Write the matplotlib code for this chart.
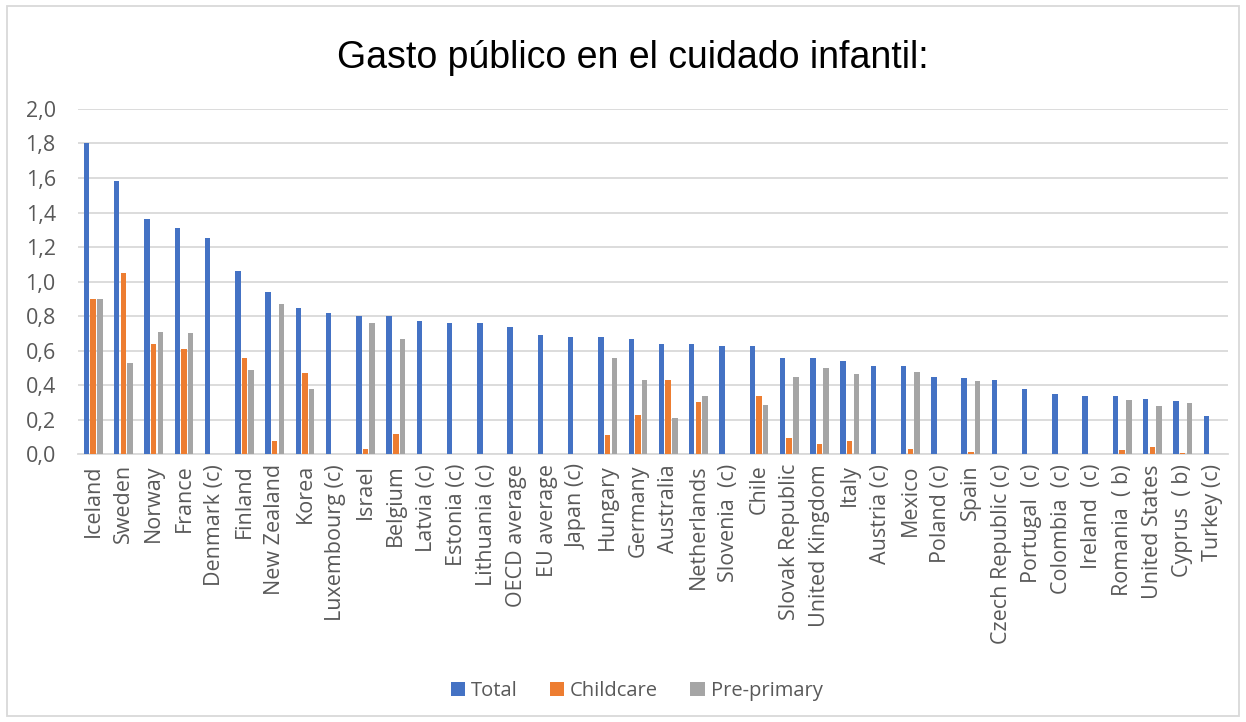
import matplotlib.pyplot as plt
import numpy as np
from matplotlib.patches import Rectangle

countries = ['Iceland', 'Sweden', 'Norway', 'France', 'Denmark (c)', 'Finland',
             'New Zealand', 'Korea', 'Luxembourg (c)', 'Israel', 'Belgium',
             'Latvia (c)', 'Estonia (c)', 'Lithuania (c)', 'OECD average',
             'EU average', 'Japan (c)', 'Hungary', 'Germany', 'Australia',
             'Netherlands', 'Slovenia  (c)', 'Chile', 'Slovak Republic',
             'United Kingdom', 'Italy', 'Austria (c)', 'Mexico', 'Poland (c)',
             'Spain', 'Czech Republic (c)', 'Portugal  (c)', 'Colombia  (c)',
             'Ireland  (c)', 'Romania  ( b)', 'United States', 'Cyprus  ( b)',
             'Turkey (c)']
total = [1.80, 1.58, 1.36, 1.31, 1.25, 1.06, 0.94, 0.85, 0.82, 0.80, 0.80,
         0.77, 0.76, 0.76, 0.74, 0.69, 0.68, 0.68, 0.67, 0.64, 0.64, 0.63,
         0.63, 0.56, 0.56, 0.54, 0.51, 0.51, 0.45, 0.44, 0.43, 0.38, 0.35,
         0.34, 0.34, 0.32, 0.31, 0.22]
childcare = [0.90, 1.05, 0.64, 0.61, 0, 0.56, 0.075, 0.47, 0, 0.033, 0.12,
             0, 0, 0, 0, 0, 0, 0.11, 0.23, 0.43, 0.30, 0,
             0.34, 0.093, 0.06, 0.075, 0, 0.031, 0, 0.013, 0, 0, 0,
             0, 0.023, 0.042, 0.008, 0]
preprimary = [0.90, 0.53, 0.71, 0.70, 0, 0.49, 0.87, 0.38, 0, 0.76, 0.67,
              0, 0, 0, 0, 0, 0, 0.56, 0.43, 0.21, 0.34, 0,
              0.285, 0.445, 0.50, 0.467, 0, 0.478, 0, 0.426, 0, 0, 0,
              0, 0.313, 0.278, 0.297, 0]

plt.rcParams['font.family'] = ['Open Sans', 'DejaVu Sans']

fig = plt.figure(figsize=(12.46, 7.22), dpi=100)
ax = fig.add_axes([0.0626, 0.3708, 0.923, 0.4783])

x = np.arange(len(countries))
w = 0.18
ax.bar(x - 0.22, total, w, color='#4472C4', label='Total', linewidth=0, zorder=3)
ax.bar(x, childcare, w, color='#ED7D31', label='Childcare', linewidth=0, zorder=3)
ax.bar(x + 0.22, preprimary, w, color='#A5A5A5', label='Pre-primary', linewidth=0, zorder=3)

ax.set_xlim(-0.5, len(countries) - 0.5)
ax.set_ylim(0, 2.0)
ax.set_yticks(np.arange(0, 2.01, 0.2))
ax.set_yticklabels([('%.1f' % v).replace('.', ',') for v in np.arange(0, 2.01, 0.2)])
ax.set_xticks(x)
ax.set_xticklabels(countries, rotation=90)
ax.tick_params(axis='both', length=0, labelsize=15.5, colors='#595959')
ax.tick_params(axis='x', pad=7)
ax.tick_params(axis='y', pad=16)
ax.grid(axis='y', color='#D9D9D9', linewidth=1.3, zorder=0)
for s in ['top', 'right', 'left']:
    ax.spines[s].set_visible(False)
ax.spines['bottom'].set_color('#D9D9D9')
ax.spines['bottom'].set_linewidth(1.3)

fig.text(0.508, 0.92, 'Gasto público en el cuidado infantil:', ha='center', va='center',
         fontsize=27, family=['Liberation Sans', 'DejaVu Sans'], color='black')

fig.legend(loc='center', bbox_to_anchor=(0.511, 0.043), ncol=3, frameon=False,
           fontsize=14.5, handlelength=0.7, handleheight=0.7, handletextpad=0.3,
           columnspacing=1.6, labelcolor='#595959')

fig.patches.append(Rectangle((0.006, 0.008), 0.988, 0.984, transform=fig.transFigure,
                             fill=False, edgecolor='#D9D9D9', linewidth=1.3))

fig.savefig('out.png', dpi=100)
